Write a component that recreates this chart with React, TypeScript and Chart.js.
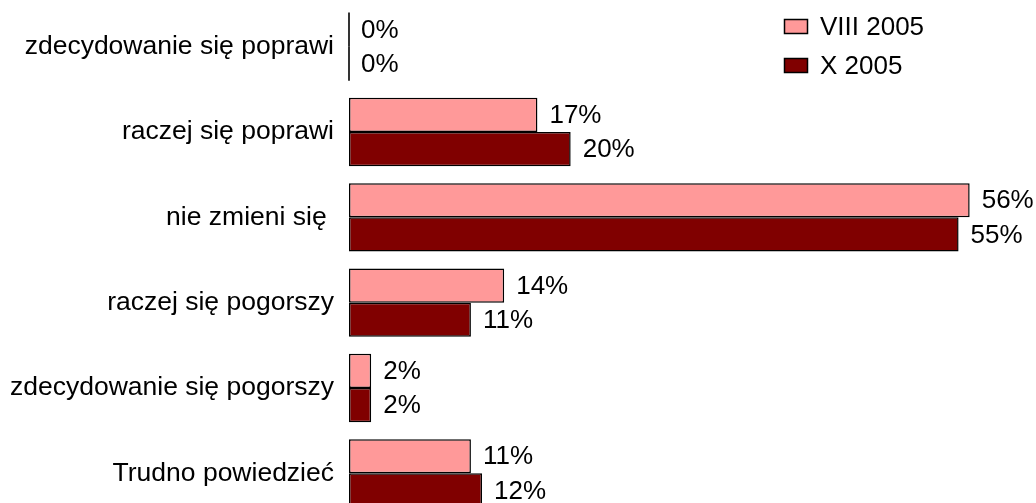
import React, { useEffect, useRef } from "react";
import { Chart, registerables } from "chart.js";

Chart.register(...registerables);

const categories = [
  "zdecydowanie się poprawi",
  "raczej się poprawi",
  "nie zmieni się ",
  "raczej się pogorszy",
  "zdecydowanie się pogorszy",
  "Trudno powiedzieć",
];
const seriesNames = ["VIII 2005", "X 2005"];
const viii2005 = [0, 17, 56, 14, 2, 11];
const x2005 = [0, 20, 55, 11, 2, 12];

const FONT_FAMILY = '"Liberation Sans", Arial, Helvetica, sans-serif';

const valueLabels = {
  id: "valueLabels",
  afterDatasetsDraw(chart: any) {
    const ctx = chart.ctx;
    ctx.save();
    ctx.font = `26px ${FONT_FAMILY}`;
    ctx.fillStyle = "#000";
    ctx.textBaseline = "middle";
    ctx.textAlign = "left";
    chart.data.datasets.forEach((ds: any, i: number) => {
      const meta = chart.getDatasetMeta(i);
      meta.data.forEach((el: any, j: number) => {
        const v = ds.data[j];
        const { x, y, height } = el.getProps(["x", "y", "height"], true);
        if (v === 0) {
          ctx.strokeStyle = "#000";
          ctx.lineWidth = 1.6;
          ctx.beginPath();
          ctx.moveTo(x, y - height / 2);
          ctx.lineTo(x, y + height / 2);
          ctx.stroke();
        }
        ctx.fillText(`${v}%`, x + 12, y + 1);
      });
    });
    ctx.restore();
  },
};

const boxLegend = {
  id: "boxLegend",
  afterDraw(chart: any) {
    const ctx = chart.ctx;
    ctx.save();
    ctx.font = `26px ${FONT_FAMILY}`;
    ctx.textBaseline = "middle";
    ctx.textAlign = "left";
    const left = chart.width - 252;
    chart.data.datasets.forEach((ds: any, i: number) => {
      const top = 19 + i * 39;
      ctx.fillStyle = ds.backgroundColor;
      ctx.fillRect(left, top, 24, 15);
      ctx.strokeStyle = "#000";
      ctx.lineWidth = 1.5;
      ctx.strokeRect(left + 0.5, top + 0.5, 23, 14);
      ctx.fillStyle = "#000";
      ctx.fillText(ds.label, left + 36, top + 8.5);
    });
    ctx.restore();
  },
};

export default function App() {
  const canvasRef = useRef<HTMLCanvasElement | null>(null);

  useEffect(() => {
    if (!canvasRef.current) return;
    const chart = new Chart(canvasRef.current, {
      type: "bar",
      data: {
        labels: categories,
        datasets: [
          {
            label: seriesNames[0],
            data: viii2005,
            backgroundColor: "#FF9999",
            borderColor: "#000000",
            borderWidth: 1.5,
            borderSkipped: false,
          },
          {
            label: seriesNames[1],
            data: x2005,
            backgroundColor: "#800000",
            borderColor: "#000000",
            borderWidth: 1.5,
            borderSkipped: false,
          },
        ],
      },
      options: {
        indexAxis: "y",
        animation: false,
        responsive: true,
        maintainAspectRatio: false,
        datasets: {
          bar: { categoryPercentage: 0.8, barPercentage: 1.0 },
        },
        layout: { padding: { left: 0, right: 22, top: 4, bottom: 4 } },
        scales: {
          x: { display: false, min: 0, max: 60 },
          y: {
            grid: { display: false, drawTicks: false },
            border: { display: false },
            ticks: {
              color: "#000",
              padding: 15,
              font: { size: 26.5, family: FONT_FAMILY },
            },
            afterFit: (scale: any) => {
              scale.width = 349;
              scale.paddingTop = 0;
              scale.paddingBottom = 0;
            },
          },
        },
        plugins: {
          legend: { display: false },
          tooltip: { enabled: false },
        },
      },
      plugins: [valueLabels, boxLegend],
    });
    return () => chart.destroy();
  }, []);

  return (
    <div
      style={{
        position: "absolute",
        left: 0,
        top: 0,
        width: 1036,
        height: 503,
        overflow: "hidden",
        background: "#fff",
      }}
    >
      <div style={{ position: "relative", width: 1036, height: 520 }}>
        <canvas ref={canvasRef} />
      </div>
    </div>
  );
}
